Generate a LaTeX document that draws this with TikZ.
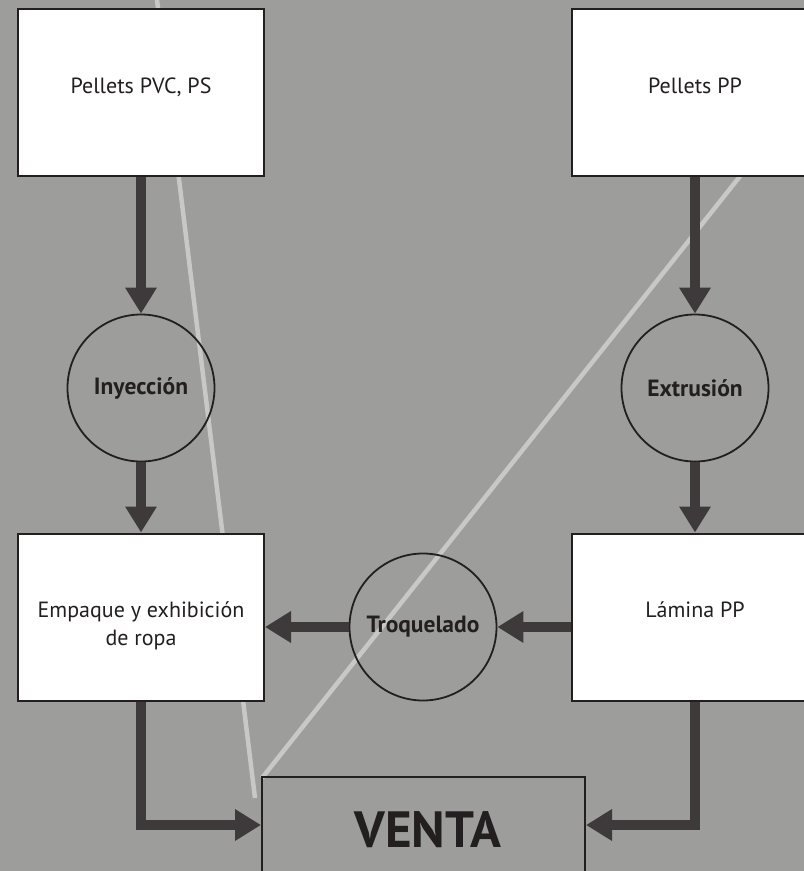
\documentclass[tikz,border=0pt]{standalone}
\usepackage{fontspec}
\setmainfont{PT Sans}
\usetikzlibrary{arrows.meta}
\definecolor{bgcol}{RGB}{157,157,156}
\definecolor{arrowcol}{RGB}{62,58,59}
\definecolor{inkcol}{RGB}{35,31,32}
\definecolor{guidecol}{RGB}{200,200,199}
\begin{document}
\begin{tikzpicture}[x=1pt,y=-1pt,
  box/.style={draw=inkcol,line width=2pt,fill=white,minimum width=246pt,minimum height=167pt,inner sep=0pt},
  boxtext/.style={anchor=base,text=inkcol,align=center,font=\fontsize{22}{28}\selectfont},
  proc/.style={draw=inkcol,line width=1.8pt,circle,minimum size=147pt,inner sep=0pt,text=inkcol,font=\fontsize{23.5}{28}\selectfont\bfseries},
  flow/.style={draw=arrowcol,line width=10.5pt,line join=miter,-{Triangle[length=26pt,width=30pt]}},
  guide/.style={draw=guidecol,line width=4.5pt}]
\useasboundingbox (0,0) rectangle (804,871);
\clip (0,0) rectangle (804,871);
\fill[bgcol] (0,0) rectangle (804,871);

% light guide lines behind everything
\coordinate (g1a) at (157,0);
\coordinate (g1b) at (255,798);
\coordinate (g2a) at (880,0);
\coordinate (g2b) at (262,778);
\draw[guide] (g1a) -- (g1b);
\draw[guide] (g2a) -- (g2b);

% material boxes
\node[box] (b1) at (141,92.5) {};
\node[boxtext] (t1) at (141,93) {Pellets PVC, PS};
\node[box] (b2) at (695,92.5) {};
\node[boxtext] (t2) at (695,93) {Pellets PP};
\node[box] (b3) at (141,617) {};
\node[boxtext] (t3) at (141,645) {Empaque y exhibición\\de ropa};
\node[box] (b4) at (695,617) {};
\node[boxtext] (t4) at (695,617) {Lámina PP};

% processes
\node[proc] (c1) at (141,388) {Inyección};
\node[proc] (c2) at (695,388) {Extrusión};
\node[proc] (c3) at (423,627) {Troquelado};

% sale
\node[draw=inkcol,line width=2pt,minimum width=323pt,minimum height=96pt,inner sep=0pt] (venta) at (423.5,825) {};
\node[anchor=base,text=inkcol,font=\fontsize{51}{60}\selectfont\bfseries] (vtext) at (428,847) {VENTA};

% flows
\draw[flow] (b1.south) -- (c1.north);
\draw[flow] (c1.south) -- (b3.north);
\draw[flow] (b2.south) -- (c2.north);
\draw[flow] (c2.south) -- (b4.north);
\draw[flow] (b4.west |- c3.east) -- (c3.east);
\draw[flow] (c3.west) -- (b3.east |- c3.west);
\draw[flow] (b3.south) |- (venta.west);
\draw[flow] (b4.south) |- (venta.east);
\end{tikzpicture}
\end{document}
